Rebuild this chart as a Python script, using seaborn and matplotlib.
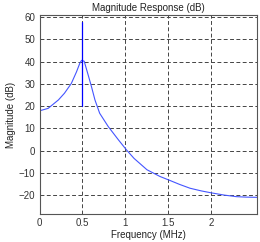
import matplotlib
matplotlib.use("Agg")
import matplotlib.pyplot as plt
import seaborn as sns
import pandas as pd

freq = [0.0, 0.10, 0.22, 0.29, 0.37, 0.43, 0.47, 0.49, 0.52, 0.567, 0.605, 0.645, 0.70, 0.80, 0.917, 1.01, 1.1, 1.25, 1.4, 1.51, 1.63, 1.75, 1.88, 2.0, 2.15, 2.29, 2.40, 2.53]
mag = [17.9, 19.0, 22.8, 25.8, 30.2, 35.4, 39.4, 40.6, 40.2, 33.9, 28.7, 22.8, 16.8, 10.8, 4.9, 0.4, -3.5, -8.6, -11.6, -13.3, -15.2, -16.9, -18.1, -19.0, -20.0, -20.7, -20.9, -21.0]
spike_x = [0.5, 0.5]
spike_y = [20, 58]
xticks = [0, 0.5, 1, 1.5, 2]
xtick_labels = ["0", "0.5", "1", "1.5", "2"]
yticks = [-20, -10, 0, 10, 20, 30, 40, 50, 60]

sns.set_theme(style="white")
plt.rcParams['font.family'] = ['Liberation Sans', 'DejaVu Sans']

fig = plt.figure(figsize=(2.6, 2.42), dpi=100)
ax = fig.add_axes([39.5/260, 1 - 214/242, (257-39.5)/260, (214-15)/242])

df = pd.DataFrame({"f": freq, "m": mag})
sns.lineplot(data=df, x="f", y="m", ax=ax, color="#4455ff", linewidth=0.8, sort=False, estimator=None)
sp = pd.DataFrame({"f": spike_x, "m": spike_y})
sns.lineplot(data=sp, x="f", y="m", ax=ax, color="#0000ff", linewidth=0.9, sort=False, estimator=None)

ax.set_xlim(0, 2.53)
ax.set_ylim(-28.5, 61)
ax.set_xticks(xticks)
ax.set_xticklabels(xtick_labels)
ax.set_yticks(yticks)
ax.tick_params(axis="both", labelsize=7, colors="#333333", direction="in", length=2, pad=3, width=0.5)
ax.grid(True, linestyle=(0, (4, 2.5)), color="#444444", linewidth=0.7)
for s in ax.spines.values():
    s.set_color("#555555")
    s.set_linewidth(0.8)
ax.set_xlabel("Frequency (MHz)", fontsize=7, labelpad=1, color="#222222")
ax.set_ylabel("Magnitude (dB)", fontsize=7, labelpad=2, color="#222222")
ax.set_title("Magnitude Response (dB)", fontsize=7, pad=3, color="#222222")

fig.savefig("out.png", dpi=100)
